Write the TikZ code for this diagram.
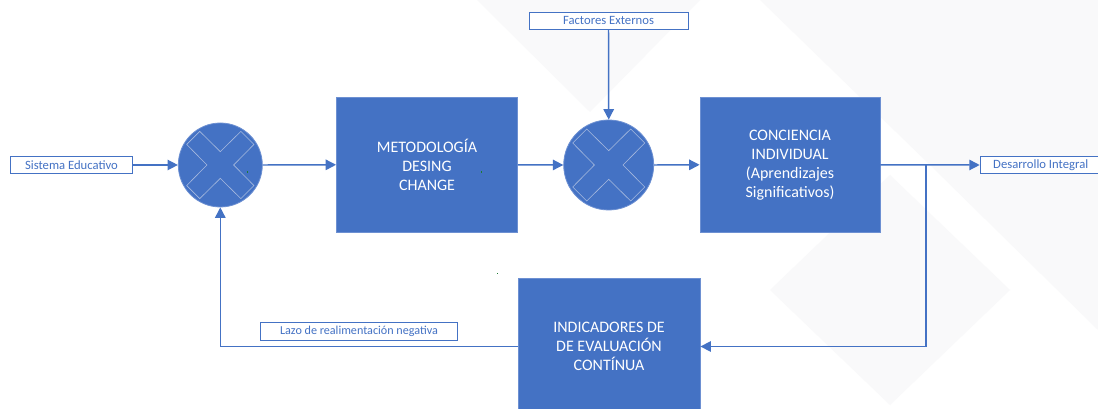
\documentclass[tikz,border=0pt]{standalone}
\usepackage{fontspec}
\setmainfont{Carlito}
\usetikzlibrary{arrows.meta}
\definecolor{obl}{HTML}{4472C4}
\definecolor{oedge}{HTML}{6D90D2}
\definecolor{xln}{HTML}{A7B9DE}
\definecolor{wm}{RGB}{249,249,250}
\definecolor{dotg}{HTML}{1E7B34}
\tikzset{
  bigbox/.style={rectangle, fill=obl, draw=oedge, line width=0.6pt, text=white, align=center,
    font=\fontsize{12pt}{14.25pt}\selectfont, inner sep=0pt},
  junc/.style={circle, fill=obl, draw=oedge, line width=0.6pt, inner sep=0pt},
  lbl/.style={rectangle, fill=white, draw=obl, line width=0.75pt, text=obl,
    font=\fontsize{9.5pt}{11pt}\selectfont, inner sep=0pt, minimum height=12.9pt},
  flow/.style={draw=obl, line width=1.1pt, -{Triangle[length=7.8pt,width=7.8pt]}},
  wire/.style={draw=obl, line width=1.1pt},
  xline/.style={draw=xln, line width=0.45pt}
}
\newcommand\myxcross[2]{%
  \draw[xline,shift={(#1.center)}] (0,{-#2*0.318}) -- ({-#2*0.489},{-#2*0.8}) -- ({-#2*0.8},{-#2*0.489}) -- ({-#2*0.318},0) -- ({-#2*0.8},{#2*0.489}) -- ({-#2*0.489},{#2*0.8}) -- (0,{#2*0.318}) -- ({#2*0.489},{#2*0.8}) -- ({#2*0.8},{#2*0.489}) -- ({#2*0.318},0) -- ({#2*0.8},{-#2*0.489}) -- ({#2*0.489},{-#2*0.8}) -- cycle;}
\begin{document}
\begin{tikzpicture}[x=0.75pt,y=-0.75pt]
\useasboundingbox (0,0) rectangle (1098,409);
% faint watermark
\fill[white] (0,0) rectangle (1098,409);
\fill[wm] (477,0) -- (700,0) -- (590,112) -- cycle;
\fill[wm] (760,0) -- (1098,0) -- (1098,330) -- (930,165) -- cycle;
\fill[wm] (770,290) -- (890,175) -- (1010,290) -- (890,405) -- cycle;
% nodes
\node[lbl, minimum width=91.5pt] (sis) at (71.5,165) {Sistema Educativo};
\node[junc, minimum size=63pt] (c1) at (220.3,165) {};
\node[bigbox, minimum width=135.75pt, minimum height=101.25pt] (met) at (427,164.8) {METODOLOGÍA\\DESING\\CHANGE};
\node[junc, minimum size=67.5pt] (c2) at (608.7,165) {};
\node[lbl, minimum width=119.25pt] (fac) at (608.5,20.8) {Factores Externos};
\node[bigbox, minimum width=135pt, minimum height=101.25pt] (con) at (790,164.8) {CONCIENCIA\\INDIVIDUAL\\(Aprendizajes\\Significativos)};
\node[lbl, minimum width=90.75pt] (des) at (1040.7,165) {Desarrollo Integral};
\node[bigbox, minimum width=136.5pt, minimum height=102.75pt] (ind) at (609,346.5) {INDICADORES DE\\DE EVALUACIÓN\\CONTÍNUA};
\node[lbl, minimum width=148pt, minimum height=13.2pt, font=\fontsize{9.1pt}{11pt}\selectfont] (laz) at (359,331.5) {Lazo de realimentación negativa\hspace{6pt}};
\myxcross{c1}{42}
\myxcross{c2}{45}
\coordinate (br) at (926,165);
\coordinate (brd) at (926,346.5);
\coordinate (fbl) at (220.3,346.5);
% connectors
\draw[flow] (sis.east) -- (c1.west);
\draw[flow] (c1.east) -- (met.west);
\draw[flow] (met.east) -- (c2.west);
\draw[flow] (fac.south) -- (c2.north);
\draw[flow] (c2.east) -- (con.west);
\draw[flow] (con.east) -- (des.west);
\draw[wire] (br) -- (brd);
\draw[flow] (brd) -- (ind.east);
\draw[wire] (ind.west) -- (fbl);
\draw[flow] (fbl) -- (c1.south);
% tiny stray dots
\fill[dotg] (246.5,171) rectangle +(1.6,1.6);
\fill[dotg] (480.5,171.5) rectangle +(1.6,1.6);
\fill[dotg] (496.5,273) rectangle +(1.4,1.4);
\end{tikzpicture}
\end{document}
